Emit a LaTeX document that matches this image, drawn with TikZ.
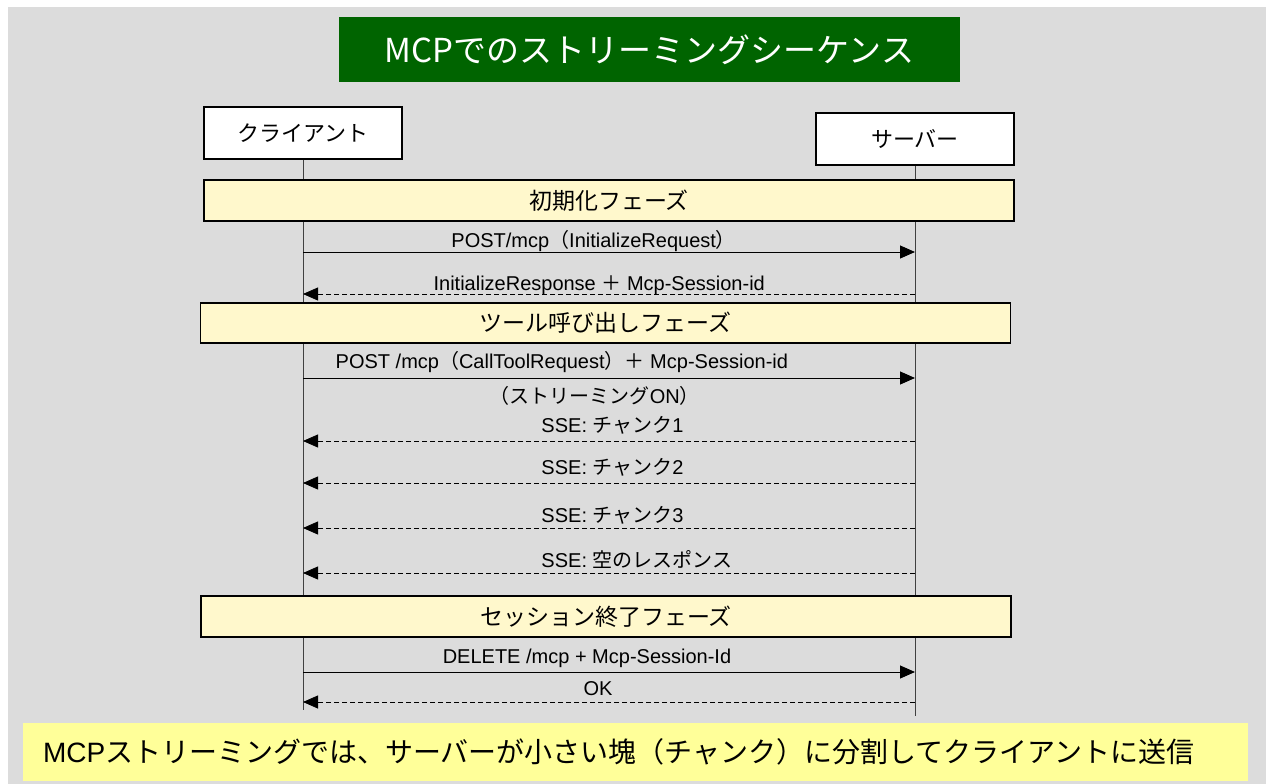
\documentclass[tikz,border=0pt]{standalone}
\usepackage{fontspec}
\setmainfont{Liberation Sans}
\newfontfamily\jp{Noto Sans CJK JP}
\usetikzlibrary{arrows.meta}
\definecolor{bggray}{RGB}{220,220,220}
\definecolor{titlegreen}{RGB}{0,100,0}
\definecolor{phaseyellow}{RGB}{255,248,204}
\definecolor{noteyellow}{RGB}{255,255,153}
\newcommand{\fsize}[1]{\fontsize{#1pt}{#1pt}\selectfont}

\begin{document}
\begin{tikzpicture}[x=1pt, y=-1pt,
    actor/.style={draw, line width=1.5pt, fill=white, minimum width=198pt,
      minimum height=52pt, inner sep=0pt, font=\jp\fsize{22}},
    phase/.style={draw, line width=1.5pt, fill=phaseyellow, minimum width=810pt,
      minimum height=41pt, inner sep=0pt, font=\jp\fsize{23}},
    lifeline/.style={draw=black!75, line width=1pt},
    req/.style={line width=1pt, -{Triangle[length=15pt,width=13pt]}},
    resp/.style={line width=0.8pt, dash pattern=on 5pt off 3pt,
      -{Triangle[length=15pt,width=13pt]}},
    lbl/.style={font=\fsize{20}, anchor=base, inner sep=0pt}]

    % Page and background
    \useasboundingbox (0,0) rectangle (1266,784);
    \fill[white] (0,0) rectangle (1266,784);
    \fill[bggray] (8,7) rectangle (1266,784);

    % Title
    \node[fill=titlegreen, text=white, minimum width=621pt, minimum height=65pt,
      inner sep=0pt, font=\jp\fsize{33}] (title) at (649.5,49.5)
      {MCPでのストリーミングシーケンス};

    % Actors and lifelines
    \node[actor] (client) at (303,133) {クライアント};
    \node[actor] (server) at (915,139) {サーバー};
    \coordinate (clientend) at (303,710);
    \coordinate (serverend) at (915,716);
    \draw[lifeline] (client) -- (clientend);
    \draw[lifeline] (server) -- (serverend);

    % Phases
    \node[phase] (init) at (609,200.5) {初期化フェーズ};
    \node[phase, minimum height=40pt] (tool) at (605.5,323) {ツール呼び出しフェーズ};
    \node[phase] (close) at (606,616.5) {セッション終了フェーズ};

    % Message end points on both lifelines
    \foreach \n/\y in {m1/252, m2/294, m3/378, s1/441, s2/483, s3/528, s4/573, d1/672, d2/702} {
        \coordinate (\n c) at (303,\y);
        \coordinate (\n s) at (915,\y);
    }

    % Initialization
    \draw[req] (m1c) -- node[lbl, pos=0.475, yshift=5pt]
      {POST/mcp{\jp （}InitializeRequest{\jp ）}} (m1s);
    \draw[resp] (m2s) -- node[lbl, pos=0.516, yshift=4pt]
      {InitializeResponse {\jp ＋} Mcp-Session-id} (m2c);

    % Tool call with streaming
    \draw[req] (m3c) -- node[lbl, pos=0.423, yshift=10pt]
      {POST /mcp{\jp （}CallToolRequest{\jp ）＋} Mcp-Session-id}
      node[lbl, pos=0.477, yshift=-25pt] {{\jp （ストリーミング}ON{\jp ）}} (m3s);
    \draw[resp] (s1s) -- node[lbl, anchor=base west, pos=0.611, yshift=9pt]
      {SSE: {\jp チャンク}1} (s1c);
    \draw[resp] (s2s) -- node[lbl, anchor=base west, pos=0.611, yshift=9pt]
      {SSE: {\jp チャンク}2} (s2c);
    \draw[resp] (s3s) -- node[lbl, anchor=base west, pos=0.611, yshift=6pt]
      {SSE: {\jp チャンク}3} (s3c);
    \draw[resp] (s4s) -- node[lbl, anchor=base west, pos=0.611, yshift=6pt]
      {SSE: {\jp 空のレスポンス}} (s4c);

    % Session end
    \draw[req] (d1c) -- node[lbl, pos=0.464, yshift=9pt]
      {DELETE /mcp + Mcp-Session-Id} (d1s);
    \draw[resp] (d2s) -- node[lbl, pos=0.518, yshift=7pt] {OK} (d2c);

    % Summary note
    \node[fill=noteyellow, minimum height=58pt, inner xsep=20pt, inner ysep=0pt,
      text width=1185pt, align=left, font=\fsize{28}] (note) at (635.5,752)
      {MCP{\jp ストリーミングでは、サーバーが小さい塊（チャンク）に分割してクライアントに送信}};
\end{tikzpicture}
\end{document}
